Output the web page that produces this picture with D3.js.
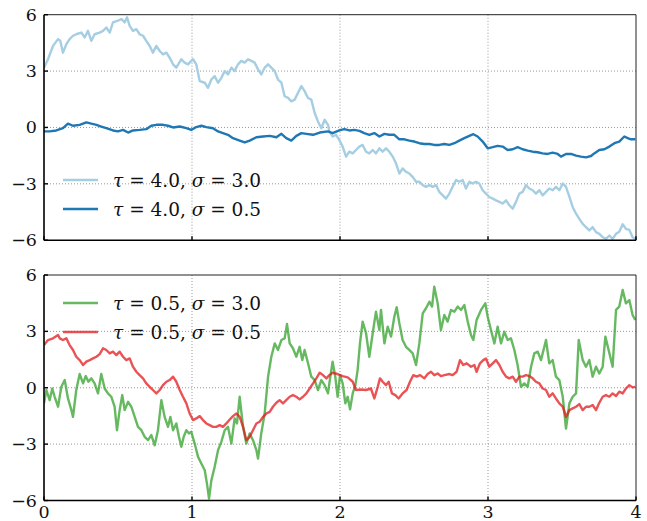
<!DOCTYPE html>
<html><head><meta charset="utf-8">
<script src="https://cdn.jsdelivr.net/npm/d3@7"></script>
<style>
html,body{margin:0;padding:0;background:#fff;}
</style></head>
<body><svg id="c" width="647" height="521"></svg>
<script>
// ---- data: time t, value x(t) ----
const xTicks = [0, 1, 2, 3, 4];
const yTicks = [-6, -3, 0, 3, 6];

const tau4sigma3 = [[0,3.18],[0.027,3.63],[0.061,4.34],[0.095,4.70],[0.110,4.61],[0.128,3.98],[0.151,4.43],[0.173,4.70],[0.196,4.88],[0.218,4.96],[0.252,5.05],[0.275,4.79],[0.297,5.14],[0.320,4.61],[0.342,4.96],[0.376,5.05],[0.399,5.14],[0.421,5.32],[0.444,5.05],[0.466,5.59],[0.500,5.68],[0.523,5.77],[0.545,5.59],[0.561,5.86],[0.579,5.41],[0.601,5.14],[0.624,5.23],[0.646,4.96],[0.669,4.88],[0.691,4.61],[0.714,4.34],[0.736,3.98],[0.759,4.34],[0.782,4.07],[0.804,3.89],[0.827,3.98],[0.849,3.71],[0.872,3.36],[0.894,3.18],[0.928,3.63],[0.950,3.45],[0.973,3.36],[0.995,3.54],[1.007,3.63],[1.029,3.36],[1.052,2.46],[1.086,2.38],[1.108,2.11],[1.131,2.55],[1.153,2.73],[1.176,2.38],[1.198,2.64],[1.221,3.00],[1.243,2.82],[1.266,3.18],[1.288,3.00],[1.311,3.36],[1.333,3.54],[1.356,3.45],[1.378,3.63],[1.401,3.54],[1.423,3.45],[1.446,3.09],[1.468,2.82],[1.491,3.18],[1.514,3.36],[1.536,3.18],[1.559,3.00],[1.581,2.55],[1.604,2.38],[1.626,1.66],[1.649,1.57],[1.671,1.39],[1.694,1.48],[1.716,1.84],[1.739,2.20],[1.761,1.93],[1.784,1.57],[1.806,1.48],[1.829,0.77],[1.851,0.32],[1.874,-0.04],[1.896,0.41],[1.919,0.14],[1.928,-0.21],[1.950,-0.48],[1.973,-0.39],[1.995,-0.66],[2.018,-1.02],[2.041,-1.55],[2.063,-1.29],[2.086,-1.38],[2.108,-1.20],[2.131,-1.02],[2.153,-0.93],[2.176,-1.29],[2.198,-1.38],[2.221,-1.20],[2.243,-1.38],[2.266,-1.11],[2.288,-1.29],[2.311,-1.11],[2.333,-1.29],[2.356,-1.55],[2.378,-1.91],[2.401,-2.45],[2.423,-2.18],[2.446,-2.36],[2.468,-2.45],[2.491,-2.63],[2.514,-2.89],[2.536,-2.89],[2.559,-3.07],[2.581,-3.16],[2.604,-3.07],[2.626,-3.16],[2.649,-3.07],[2.671,-3.43],[2.694,-3.61],[2.716,-3.79],[2.739,-3.52],[2.761,-3.16],[2.784,-2.80],[2.806,-2.89],[2.829,-2.80],[2.851,-3.25],[2.874,-2.89],[2.896,-2.98],[2.919,-2.89],[2.941,-2.98],[2.964,-3.34],[2.986,-3.52],[3.009,-3.70],[3.032,-3.79],[3.054,-3.88],[3.077,-3.96],[3.099,-4.05],[3.122,-3.88],[3.144,-4.14],[3.167,-4.32],[3.189,-3.96],[3.212,-3.52],[3.234,-3.43],[3.257,-3.07],[3.279,-3.25],[3.302,-3.34],[3.324,-3.52],[3.347,-3.34],[3.369,-3.61],[3.392,-3.43],[3.414,-3.25],[3.437,-3.34],[3.459,-3.16],[3.482,-3.34],[3.505,-2.98],[3.527,-3.16],[3.550,-3.70],[3.572,-4.23],[3.595,-4.59],[3.617,-4.86],[3.640,-5.13],[3.662,-5.30],[3.685,-5.48],[3.707,-5.30],[3.730,-5.57],[3.752,-5.66],[3.775,-5.84],[3.797,-5.93],[3.820,-5.75],[3.842,-5.93],[3.865,-5.66],[3.887,-5.55],[3.910,-5.15],[3.932,-5.40],[3.955,-5.45],[3.977,-5.84],[3.995,-5.93]];

const tau4sigma05 = [[0,-0.21],[0.038,-0.21],[0.083,-0.16],[0.128,-0.04],[0.162,0.20],[0.196,0.09],[0.241,0.14],[0.286,0.27],[0.320,0.20],[0.354,0.14],[0.387,0.05],[0.421,-0.04],[0.466,-0.16],[0.500,-0.21],[0.534,-0.13],[0.568,-0.27],[0.601,-0.16],[0.646,-0.13],[0.691,-0.09],[0.725,0.09],[0.759,0.14],[0.804,0.14],[0.838,0.09],[0.872,0.00],[0.917,0.05],[0.962,-0.04],[0.995,-0.13],[1.029,0.02],[1.063,0.09],[1.097,0.02],[1.142,-0.04],[1.176,-0.21],[1.209,-0.30],[1.243,-0.39],[1.277,-0.57],[1.322,-0.70],[1.356,-0.80],[1.390,-0.70],[1.435,-0.52],[1.480,-0.48],[1.525,-0.45],[1.570,-0.52],[1.604,-0.34],[1.637,-0.57],[1.671,-0.70],[1.705,-0.45],[1.739,-0.30],[1.773,-0.34],[1.818,-0.39],[1.863,-0.27],[1.919,-0.21],[1.950,-0.30],[1.995,-0.16],[2.029,-0.09],[2.063,-0.16],[2.097,-0.13],[2.131,-0.18],[2.164,-0.30],[2.198,-0.39],[2.232,-0.30],[2.266,-0.48],[2.300,-0.34],[2.333,-0.39],[2.367,-0.39],[2.401,-0.63],[2.435,-0.63],[2.468,-0.70],[2.502,-0.75],[2.536,-0.84],[2.570,-0.88],[2.604,-0.88],[2.637,-0.93],[2.671,-0.93],[2.705,-0.88],[2.739,-0.93],[2.773,-0.84],[2.806,-0.70],[2.840,-0.57],[2.874,-0.45],[2.901,-0.36],[2.930,-0.48],[2.964,-0.75],[2.998,-1.11],[3.032,-1.05],[3.065,-0.98],[3.099,-1.02],[3.133,-1.20],[3.167,-1.16],[3.200,-1.05],[3.234,-1.16],[3.268,-1.23],[3.302,-1.29],[3.336,-1.32],[3.369,-1.38],[3.403,-1.41],[3.437,-1.34],[3.471,-1.41],[3.493,-1.55],[3.527,-1.41],[3.561,-1.41],[3.595,-1.50],[3.628,-1.55],[3.662,-1.59],[3.696,-1.52],[3.718,-1.38],[3.752,-1.20],[3.786,-1.16],[3.820,-1.02],[3.854,-0.84],[3.887,-0.75],[3.921,-0.48],[3.944,-0.57],[3.966,-0.63],[3.995,-0.63]];

const tau05sigma3 = [[0,-0.83],[0.016,-0.12],[0.038,-0.66],[0.056,-0.04],[0.072,-0.48],[0.095,-1.01],[0.117,0.05],[0.140,0.41],[0.162,-0.57],[0.185,-1.19],[0.196,-1.55],[0.218,-0.12],[0.241,0.73],[0.264,0.23],[0.282,0.62],[0.300,0.32],[0.320,0.50],[0.342,0.23],[0.365,-0.30],[0.387,0.73],[0.410,-0.04],[0.432,-0.30],[0.455,-0.48],[0.477,-1.01],[0.493,-2.26],[0.511,-1.19],[0.529,-0.39],[0.545,-1.19],[0.568,-0.75],[0.590,-1.01],[0.613,-1.55],[0.635,-2.08],[0.658,-2.26],[0.680,-2.61],[0.703,-2.79],[0.725,-2.52],[0.748,-3.06],[0.770,-2.26],[0.793,-0.66],[0.815,-1.55],[0.838,-2.08],[0.854,-1.55],[0.872,-2.26],[0.894,-1.90],[0.912,-2.61],[0.928,-3.14],[0.944,-2.61],[0.962,-2.26],[0.980,-2.43],[0.995,-2.34],[1.018,-2.97],[1.041,-3.68],[1.063,-4.03],[1.086,-4.39],[1.101,-5.10],[1.115,-5.90],[1.131,-4.92],[1.153,-4.21],[1.176,-3.32],[1.198,-2.88],[1.221,-2.26],[1.243,-2.08],[1.266,-2.97],[1.288,-1.63],[1.304,-1.90],[1.322,-0.48],[1.345,-2.08],[1.367,-2.97],[1.390,-2.43],[1.412,-2.79],[1.435,-3.32],[1.446,-3.77],[1.468,-2.43],[1.491,-1.37],[1.514,0.59],[1.536,1.65],[1.559,2.36],[1.581,2.01],[1.604,2.54],[1.626,2.63],[1.642,3.39],[1.660,2.36],[1.682,2.10],[1.705,1.65],[1.727,2.18],[1.745,1.47],[1.761,2.01],[1.784,1.30],[1.806,0.59],[1.829,0.41],[1.851,-0.12],[1.874,0.41],[1.896,0.14],[1.919,-0.30],[1.928,0.23],[1.950,1.39],[1.968,0.59],[1.984,-0.48],[2.000,0.67],[2.018,0.23],[2.036,-0.83],[2.052,-0.48],[2.068,-1.15],[2.086,-0.30],[2.104,0.14],[2.119,0.94],[2.135,2.36],[2.153,3.52],[2.176,2.90],[2.198,1.65],[2.221,2.90],[2.243,4.05],[2.266,3.07],[2.277,4.14],[2.300,2.36],[2.322,3.25],[2.345,2.72],[2.367,3.78],[2.383,4.28],[2.401,3.43],[2.423,2.54],[2.446,2.18],[2.468,2.01],[2.491,1.83],[2.514,1.21],[2.536,2.36],[2.559,3.96],[2.581,4.23],[2.604,4.58],[2.622,4.32],[2.637,5.38],[2.660,4.49],[2.682,3.07],[2.705,3.87],[2.727,3.52],[2.750,4.14],[2.773,4.05],[2.795,4.32],[2.818,4.14],[2.840,4.40],[2.863,3.52],[2.885,2.81],[2.901,2.54],[2.923,3.61],[2.953,4.14],[2.982,4.49],[2.998,3.78],[3.020,3.07],[3.043,2.36],[3.065,3.25],[3.088,2.36],[3.110,2.98],[3.133,2.54],[3.155,2.63],[3.178,2.01],[3.200,1.21],[3.223,0.05],[3.245,0.23],[3.268,0.05],[3.291,1.12],[3.313,1.83],[3.336,1.92],[3.358,1.47],[3.392,2.54],[3.414,1.30],[3.437,1.47],[3.459,0.59],[3.482,0.41],[3.505,-0.48],[3.527,-2.17],[3.550,-0.83],[3.572,-0.48],[3.595,-0.30],[3.613,2.54],[3.640,1.47],[3.662,1.12],[3.685,1.47],[3.707,0.59],[3.730,1.12],[3.752,0.76],[3.775,1.12],[3.793,2.72],[3.815,2.01],[3.842,1.12],[3.865,4.14],[3.887,4.32],[3.910,5.20],[3.932,4.49],[3.955,4.67],[3.977,3.87],[3.995,3.61]];

const tau05sigma05 = [[0,2.27],[0.027,2.54],[0.061,2.63],[0.095,2.81],[0.106,2.63],[0.128,2.54],[0.151,2.63],[0.173,2.27],[0.196,2.01],[0.218,1.65],[0.241,1.47],[0.264,1.21],[0.286,1.39],[0.309,1.47],[0.331,1.56],[0.354,1.65],[0.376,1.79],[0.399,2.10],[0.421,2.01],[0.444,1.83],[0.466,1.92],[0.489,1.74],[0.511,1.92],[0.534,1.65],[0.556,1.47],[0.579,1.56],[0.601,1.12],[0.624,0.85],[0.646,0.67],[0.669,0.50],[0.691,0.23],[0.714,0.05],[0.736,-0.12],[0.759,-0.30],[0.782,-0.12],[0.804,0.14],[0.827,0.32],[0.849,0.41],[0.872,0.59],[0.894,0.32],[0.917,-0.12],[0.939,-0.48],[0.962,-0.83],[0.984,-1.37],[1.007,-1.72],[1.029,-1.63],[1.052,-1.51],[1.074,-1.72],[1.097,-1.90],[1.119,-1.99],[1.142,-2.08],[1.164,-2.08],[1.187,-1.99],[1.209,-2.08],[1.232,-1.90],[1.255,-1.69],[1.277,-1.51],[1.300,-1.37],[1.322,-1.55],[1.345,-2.08],[1.367,-2.79],[1.390,-2.61],[1.412,-2.26],[1.435,-1.90],[1.457,-1.81],[1.480,-1.55],[1.502,-1.37],[1.525,-1.28],[1.547,-1.01],[1.570,-0.80],[1.592,-0.66],[1.615,-0.83],[1.637,-0.66],[1.660,-0.48],[1.682,-0.39],[1.705,-0.48],[1.727,-0.62],[1.750,-0.48],[1.773,-0.30],[1.795,-0.04],[1.818,0.23],[1.840,0.50],[1.863,0.80],[1.885,0.67],[1.908,0.50],[1.928,0.67],[1.950,0.80],[1.984,0.73],[2.018,0.62],[2.052,0.55],[2.086,0.32],[2.108,-0.12],[2.142,-0.09],[2.176,-0.12],[2.209,-0.04],[2.232,-0.57],[2.255,0.05],[2.270,0.50],[2.288,0.32],[2.311,0.14],[2.329,0.32],[2.351,-0.30],[2.374,-0.39],[2.396,-0.57],[2.423,-0.30],[2.450,-0.12],[2.473,0.32],[2.495,0.67],[2.518,0.59],[2.541,0.67],[2.570,0.50],[2.592,0.73],[2.615,0.85],[2.637,0.67],[2.660,0.76],[2.682,0.62],[2.705,0.67],[2.739,0.73],[2.761,0.67],[2.788,0.85],[2.811,1.47],[2.833,1.21],[2.856,1.30],[2.885,1.12],[2.908,1.21],[2.923,0.85],[2.946,1.30],[2.968,1.47],[2.986,1.56],[3.009,1.12],[3.032,1.30],[3.054,1.47],[3.077,1.21],[3.099,0.85],[3.122,0.59],[3.144,0.50],[3.167,0.59],[3.189,0.32],[3.212,0.59],[3.234,0.59],[3.257,0.67],[3.279,0.62],[3.302,0.50],[3.324,0.32],[3.347,0.23],[3.369,-0.04],[3.392,-0.12],[3.414,-0.48],[3.437,-0.30],[3.459,-0.57],[3.482,-0.83],[3.505,-1.01],[3.527,-1.55],[3.550,-1.19],[3.572,-1.10],[3.595,-1.01],[3.617,-0.87],[3.640,-1.19],[3.662,-1.01],[3.685,-1.01],[3.707,-0.92],[3.730,-1.19],[3.752,-0.80],[3.775,-0.48],[3.797,-0.39],[3.820,-0.48],[3.842,-0.30],[3.865,-0.44],[3.887,-0.21],[3.910,-0.30],[3.932,-0.04],[3.955,0.14],[3.977,0.02],[3.995,0.05]];

const panels = [
  {top: 14.7, series: [
    {name: ["4.0", "3.0"], data: tau4sigma3, color: "#a6cee3", opacity: 1},
    {name: ["4.0", "0.5"], data: tau4sigma05, color: "#1f78b4", opacity: 1}],
   legendY: [180, 209]},
  {top: 275, series: [
    {name: ["0.5", "3.0"], data: tau05sigma3, color: "#33a02c", opacity: 0.75},
    {name: ["0.5", "0.5"], data: tau05sigma05, color: "#e31a1c", opacity: 0.75}],
   legendY: [303, 332]}
];

const FONT = "DejaVu Serif";
const svg = d3.select("#c");
const left = 44, right = 636, ph = 225.5;
const x = d3.scaleLinear().domain([0, 4]).range([left, right]);

panels.forEach((p, pi) => {
  const y = d3.scaleLinear().domain([-6, 6]).range([p.top + ph, p.top]);
  const g = svg.append("g");
  g.selectAll(".gx").data([1, 2, 3]).enter().append("line")
    .attr("x1", d => x(d)).attr("x2", d => x(d)).attr("y1", p.top).attr("y2", p.top + ph)
    .attr("stroke", "#999").attr("stroke-width", 1).attr("stroke-dasharray", "1,2");
  g.selectAll(".gy").data([-3, 0, 3]).enter().append("line")
    .attr("x1", left).attr("x2", right).attr("y1", d => y(d)).attr("y2", d => y(d))
    .attr("stroke", "#999").attr("stroke-width", 1).attr("stroke-dasharray", "1,2");
  const cid = "clip" + pi;
  svg.append("clipPath").attr("id", cid).append("rect")
    .attr("x", left).attr("y", p.top).attr("width", right - left).attr("height", ph);
  const line = d3.line().x(d => x(d[0])).y(d => y(d[1]));
  p.series.forEach(s => {
    g.append("path").attr("d", line(s.data)).attr("fill", "none")
      .attr("stroke", s.color).attr("stroke-width", 2.4).attr("stroke-opacity", s.opacity)
      .attr("stroke-linejoin", "round").attr("clip-path", `url(#${cid})`);
  });
  g.append("line").attr("x1", left).attr("x2", right).attr("y1", p.top).attr("y2", p.top)
    .attr("stroke", "#222").attr("stroke-width", 1);
  g.append("line").attr("x1", right).attr("x2", right).attr("y1", p.top).attr("y2", p.top + ph)
    .attr("stroke", "#222").attr("stroke-width", 1);
  g.append("line").attr("x1", left).attr("x2", right).attr("y1", p.top + ph).attr("y2", p.top + ph)
    .attr("stroke", "#000").attr("stroke-width", 1.6);
  g.append("line").attr("x1", left).attr("x2", left).attr("y1", p.top).attr("y2", p.top + ph)
    .attr("stroke", "#000").attr("stroke-width", 1.6);
  g.selectAll(".tx").data(xTicks).enter().append("line")
    .attr("x1", d => x(d)).attr("x2", d => x(d)).attr("y1", p.top + ph).attr("y2", p.top + ph - 4)
    .attr("stroke", "#000").attr("stroke-width", 1.4);
  g.selectAll(".ty").data(yTicks).enter().append("line")
    .attr("x1", left).attr("x2", left + 4).attr("y1", d => y(d)).attr("y2", d => y(d))
    .attr("stroke", "#000").attr("stroke-width", 1.4);
  g.selectAll(".yl").data(yTicks).enter().append("text")
    .attr("x", 37).attr("y", d => y(d) + 6).attr("text-anchor", "end")
    .style("font-family", FONT).attr("font-size", 17.5).attr("fill", "#111")
    .text(d => d < 0 ? "\u2212" + Math.abs(d) : String(d));
  if (pi === 1) {
    g.selectAll(".xl").data(xTicks).enter().append("text")
      .attr("x", d => x(d)).attr("y", 518).attr("text-anchor", "middle")
      .style("font-family", FONT).attr("font-size", 17.5).attr("fill", "#111").text(d => String(d));
  }
  p.series.forEach((s, i) => {
    const ly = p.legendY[i];
    g.append("line").attr("x1", 63).attr("x2", 98).attr("y1", ly).attr("y2", ly)
      .attr("stroke", s.color).attr("stroke-width", 2.4).attr("stroke-opacity", s.opacity);
    const t = g.append("text").attr("x", 113).attr("y", ly + 6.5)
      .style("font-family", FONT).attr("font-size", 18.5).attr("fill", "#111");
    t.append("tspan").attr("font-style", "italic").text("\u03c4");
    t.append("tspan").text(" = " + s.name[0] + ", ");
    t.append("tspan").attr("font-style", "italic").text("\u03c3");
    t.append("tspan").text(" = " + s.name[1]);
  });
});
</script></body></html>
